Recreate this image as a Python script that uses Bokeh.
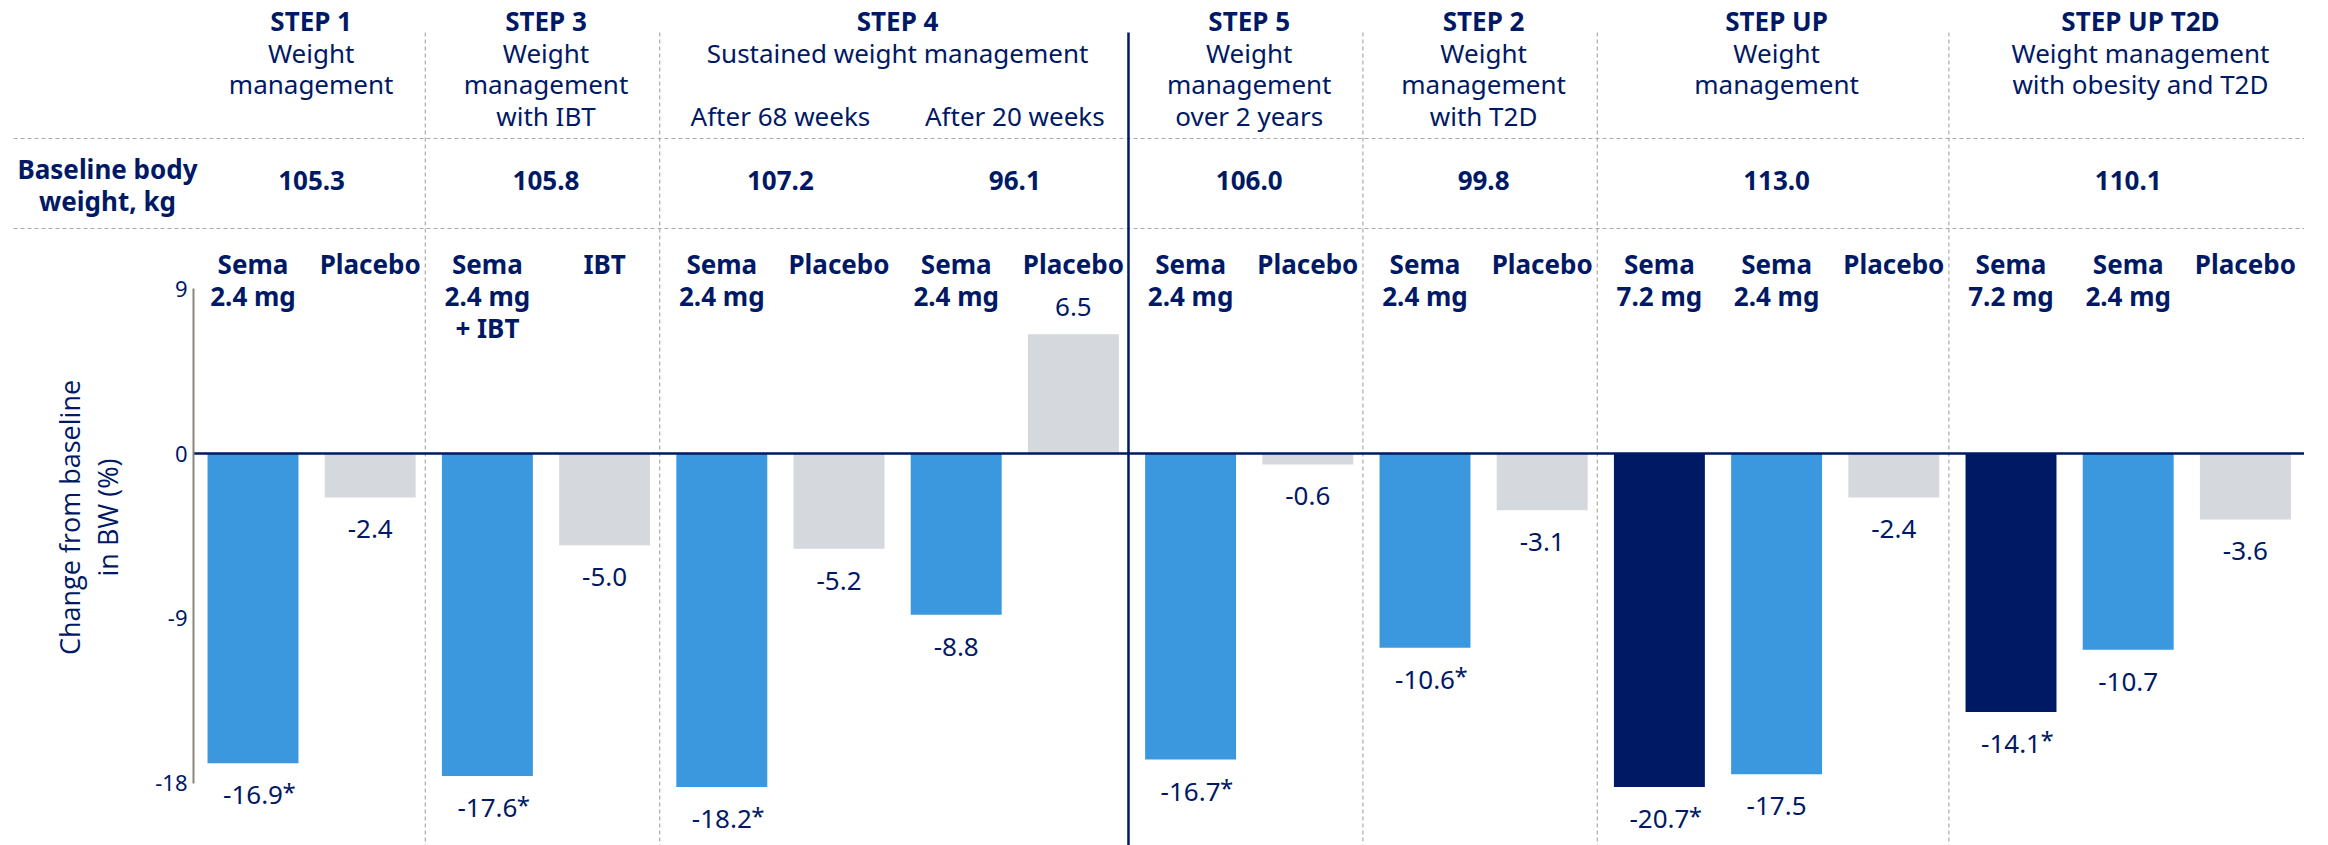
import numpy as np
from bokeh.plotting import figure
from bokeh.models import (ColumnDataSource, LabelSet, Label, Range1d, LinearAxis,
                          FixedTicker, PrintfTickFormatter)
from bokeh.core.properties import value
from bokeh.embed import file_html
from bokeh.resources import INLINE

# ---------------- data ----------------
studies = ["STEP 1", "STEP 3", "STEP 4", "STEP 5", "STEP 2", "STEP UP", "STEP UP T2D"]
study_desc = ["Weight\nmanagement",
              "Weight\nmanagement\nwith IBT",
              "Sustained weight management",
              "Weight\nmanagement\nover 2 years",
              "Weight\nmanagement\nwith T2D",
              "Weight\nmanagement",
              "Weight management\nwith obesity and T2D"]
study_n_arms = [2, 2, 4, 2, 2, 3, 3]

period_labels = ["After 68 weeks", "After 20 weeks"]   # STEP 4 sub-periods
period_n_arms = [2, 2]

baseline_title = "Baseline body\nweight, kg"
baseline_bw = ["105.3", "105.8", "107.2", "96.1", "106.0", "99.8", "113.0", "110.1"]
baseline_n_arms = [2, 2, 2, 2, 2, 2, 3, 3]

arms = ["Sema\n2.4 mg", "Placebo",
        "Sema\n2.4 mg\n+ IBT", "IBT",
        "Sema\n2.4 mg", "Placebo", "Sema\n2.4 mg", "Placebo",
        "Sema\n2.4 mg", "Placebo",
        "Sema\n2.4 mg", "Placebo",
        "Sema\n7.2 mg", "Sema\n2.4 mg", "Placebo",
        "Sema\n7.2 mg", "Sema\n2.4 mg", "Placebo"]
arm_kind = ["sema24", "placebo",
            "sema24", "placebo",
            "sema24", "placebo", "sema24", "placebo",
            "sema24", "placebo",
            "sema24", "placebo",
            "sema72", "sema24", "placebo",
            "sema72", "sema24", "placebo"]
bw_change = [-16.9, -2.4,
             -17.6, -5.0,
             -18.2, -5.2, -8.8, 6.5,
             -16.7, -0.6,
             -10.6, -3.1,
             -20.7, -17.5, -2.4,
             -14.1, -10.7, -3.6]
significant = [True, False,
               True, False,
               True, False, False, False,
               True, False,
               True, False,
               True, False, False,
               True, False, False]

y_ticks = [-18, -9, 0, 9]
y_title = ["Change from baseline", "in BW (%)"]

# ---------------- style / layout ----------------
W, H = 2328, 845
NAVY = "#001965"
BLUE = "#3B97DE"
GREY = "#D5D8DC"
SEP = "#ABABAB"
AXIS_GREY = "#8C857E"
kind_color = {"sema24": BLUE, "sema72": NAVY, "placebo": GREY}

AXIS_PX = 193             # px, where the y axis sits
BAR_PITCH = 117.2         # px per category
FIRST_BAR = 252.5         # px, centre of first bar
ZERO_PX = 453.0           # px, screen row of y = 0
PX_PER_UNIT = 18.33       # px per % point
Y_FLOOR = -18.2           # bars are cut at the bottom of the axis
FONT = "Noto Sans"
FS = "26px"


def row(px):
    """screen row (px from top) -> data y"""
    return (ZERO_PX - px) / PX_PER_UNIT


def col(px):
    """screen column (px from left) -> data x"""
    return (px - FIRST_BAR) / BAR_PITCH


x_start, x_end = col(0), col(W)
y_start, y_end = row(H), row(0)

n = len(bw_change)
idx = np.arange(n, dtype=float)
vals = np.array(bw_change)
shown = np.maximum(vals, Y_FLOOR)

p = figure(width=W, height=H, x_range=Range1d(x_start, x_end),
           y_range=Range1d(y_start, y_end), output_backend="svg",
           toolbar_location=None, x_axis_location=None, y_axis_location=None,
           min_border=0)
p.outline_line_color = None
p.xgrid.visible = False
p.ygrid.visible = False
p.background_fill_color = "white"
p.border_fill_color = "white"

# y axis, drawn inside the frame at the left edge of the bar area
yax = LinearAxis(ticker=FixedTicker(ticks=y_ticks), bounds=(min(y_ticks), max(y_ticks)),
                 formatter=PrintfTickFormatter(format="%d"), fixed_location=col(AXIS_PX))
yax.axis_line_color = AXIS_GREY
yax.axis_line_width = 2
yax.major_tick_line_color = None
yax.minor_tick_line_color = None
yax.major_tick_out = 0
yax.major_tick_in = 0
yax.major_label_text_color = NAVY
yax.major_label_text_font = FONT
yax.major_label_text_font_size = "22px"
yax.major_label_standoff = 6
p.add_layout(yax, "left")

# y axis title (two lines, rotated)
for t, cx in zip(y_title, [69, 107]):
    p.add_layout(Label(x=col(cx), y=row(517), text=t, angle=np.pi / 2,
                       text_align="center", text_baseline="middle",
                       text_font="Open Sans", text_font_size="27px",
                       text_color=NAVY))


def lines_source(xs, texts, first_px, step_px):
    X, Y, T = [], [], []
    for x, t in zip(xs, texts):
        for k, line in enumerate(t.split("\n")):
            X.append(x)
            Y.append(row(first_px + k * step_px))
            T.append(line)
    return ColumnDataSource(dict(x=X, y=Y, t=T))


def add_text(src, bold=False):
    p.add_layout(LabelSet(x="x", y="y", text="t", source=src, text_align="center",
                          text_baseline="middle", text_font=value(FONT), text_font_size=FS,
                          text_font_style="bold" if bold else "normal", text_color=NAVY))


# group boundaries
bounds = np.cumsum(study_n_arms)
sep_x = bounds[:-1] - 0.5 - 0.03
cell_edges = np.concatenate([[col(AXIS_PX)], bounds[:-1] - 0.5, [x_end]])
cell_centers = (cell_edges[:-1] + cell_edges[1:]) / 2
solid_after = studies.index("STEP 4")

# horizontal dashed separators in the header
for ry in [138, 228]:
    p.segment(x0=[col(13)], x1=[n - 0.5], y0=[row(ry)], y1=[row(ry)],
              line_color=SEP, line_width=1.2, line_dash="4 3")

# vertical separators
for i, sx in enumerate(sep_x):
    if i == solid_after:
        p.segment(x0=[sx], x1=[sx], y0=[row(32)], y1=[y_start], line_color=NAVY, line_width=2.5)
    else:
        p.segment(x0=[sx], x1=[sx], y0=[row(32)], y1=[y_start], line_color=SEP,
                  line_width=1.2, line_dash="4 3")

# bars
src = ColumnDataSource(dict(
    x=idx, top=np.where(vals > 0, vals, 0), bottom=np.where(vals < 0, shown, 0),
    color=[kind_color[k] for k in arm_kind]))
p.vbar(x="x", width=0.776, top="top", bottom="bottom", fill_color="color",
       line_color=None, source=src)

# zero line
p.segment(x0=[col(AXIS_PX)], x1=[n - 0.5], y0=[0], y1=[0], line_color=NAVY, line_width=2.5)

# value labels
lab_y = np.where(vals < 0, shown - 32 / PX_PER_UNIT, vals + 27 / PX_PER_UNIT)
lab_txt = [f"{v:.1f}" for v in bw_change]
add_text(ColumnDataSource(dict(x=idx, y=lab_y, t=lab_txt)))
sig = np.array(significant)
star_src = ColumnDataSource(dict(x=idx[sig] + 36 / BAR_PITCH,
                                 y=lab_y[sig] + 4 / PX_PER_UNIT,
                                 t=["*"] * int(sig.sum())))
p.add_layout(LabelSet(x="x", y="y", text="t", source=star_src, text_align="center",
                      text_baseline="middle", text_font=value(FONT), text_font_size="24px",
                      text_color=NAVY))

# arm labels
add_text(lines_source(idx, arms, 263, 32), bold=True)

# study titles & descriptions
add_text(lines_source(cell_centers, studies, 20, 0), bold=True)
add_text(lines_source(cell_centers, study_desc, 52, 31.5))

# STEP 4 sub-periods
s4_first = int(np.sum(study_n_arms[:solid_after]))
p_edges = s4_first + np.concatenate([[0], np.cumsum(period_n_arms)])
p_centers = (p_edges[:-1] + p_edges[1:] - 1) / 2
add_text(lines_source(p_centers, period_labels, 115, 0))

# baseline body weight row
b_edges = np.concatenate([[0], np.cumsum(baseline_n_arms)])
b_centers = (b_edges[:-1] + b_edges[1:] - 1) / 2
add_text(lines_source(b_centers, baseline_bw, 180, 0), bold=True)
add_text(lines_source([col(107)], [baseline_title], 168, 32), bold=True)

open("out.html", "w").write(file_html(p, INLINE))
